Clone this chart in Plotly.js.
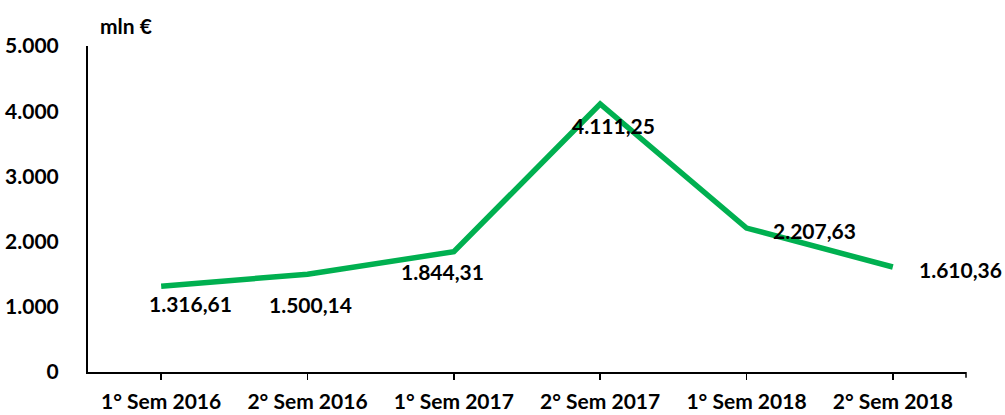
<!DOCTYPE html>
<html>
<head>
<meta charset="utf-8">
<script src="https://cdn.plot.ly/plotly-3.0.1.min.js"></script>
<style>html,body{margin:0;padding:0;background:#fff;}#chart{width:1005px;height:415px;}</style>
</head>
<body>
<div id="chart"></div>
<script>
const categories = ["1° Sem 2016", "2° Sem 2016", "1° Sem 2017", "2° Sem 2017", "1° Sem 2018", "2° Sem 2018"];
const values = [1316.61, 1500.14, 1844.31, 4111.25, 2207.63, 1610.36];
const yTickVals = [0, 1000, 2000, 3000, 4000, 5000];
const unitLabel = "mln €";

// label placement (pixel shifts) – layout, not data
const labelShiftX = [29, 3, -11, 13, 68, 68];
const labelShiftY = [-17, -30, -20, -22, -2, -2];

function fmtIt(v) {
  const parts = v.toFixed(2).split(".");
  parts[0] = parts[0].replace(/\B(?=(\d{3})+(?!\d))/g, ".");
  return parts[0] + "," + parts[1];
}

const FONT = "Lato, 'Open Sans', sans-serif";
const fontBold = {family: FONT, size: 21, color: "#000", weight: "bold"};
const fontX = {family: FONT, size: 21, color: "#000", weight: "bold"};

const annotations = categories.map((c, i) => ({
  x: c, y: values[i], xref: "x", yref: "y",
  text: fmtIt(values[i]), showarrow: false,
  xshift: labelShiftX[i], yshift: labelShiftY[i],
  font: fontBold
}));
annotations.push({
  xref: "paper", yref: "paper", x: 0.011, y: 1.0, xanchor: "left", yanchor: "bottom",
  yshift: 6, text: unitLabel, showarrow: false, font: fontBold
});

const trace = {
  x: categories, y: values, type: "scatter", mode: "lines",
  line: {color: "#00B050", width: 5.5}, hoverinfo: "skip"
};

const layout = {
  width: 1005, height: 415,
  margin: {l: 88, r: 39, t: 46, b: 43},
  paper_bgcolor: "#fff", plot_bgcolor: "#fff",
  separators: ",.",
  showlegend: false,
  xaxis: {
    type: "category", range: [-0.5, 5.5],
    showline: true, linecolor: "#000", linewidth: 2,
    ticks: "outside", ticklen: 6, tickwidth: 1.5, tickcolor: "#000",
    showgrid: false, zeroline: false,
    tickfont: fontX, ticklabelstandoff: 4
  },
  yaxis: {
    range: [0, 5000], tickvals: yTickVals, tickformat: ",d",
    showline: true, linecolor: "#000", linewidth: 2,
    ticks: "", showgrid: false, zeroline: false,
    tickfont: fontBold, ticklabelstandoff: 23
  },
  annotations: annotations,
  shapes: [{
    type: "line", xref: "paper", yref: "paper", x0: 1, x1: 1, y0: 0, y1: -0.018,
    line: {color: "#000", width: 1.5}
  }]
};

Plotly.newPlot("chart", [trace], layout, {staticPlot: true, displayModeBar: false});
</script>
</body>
</html>
